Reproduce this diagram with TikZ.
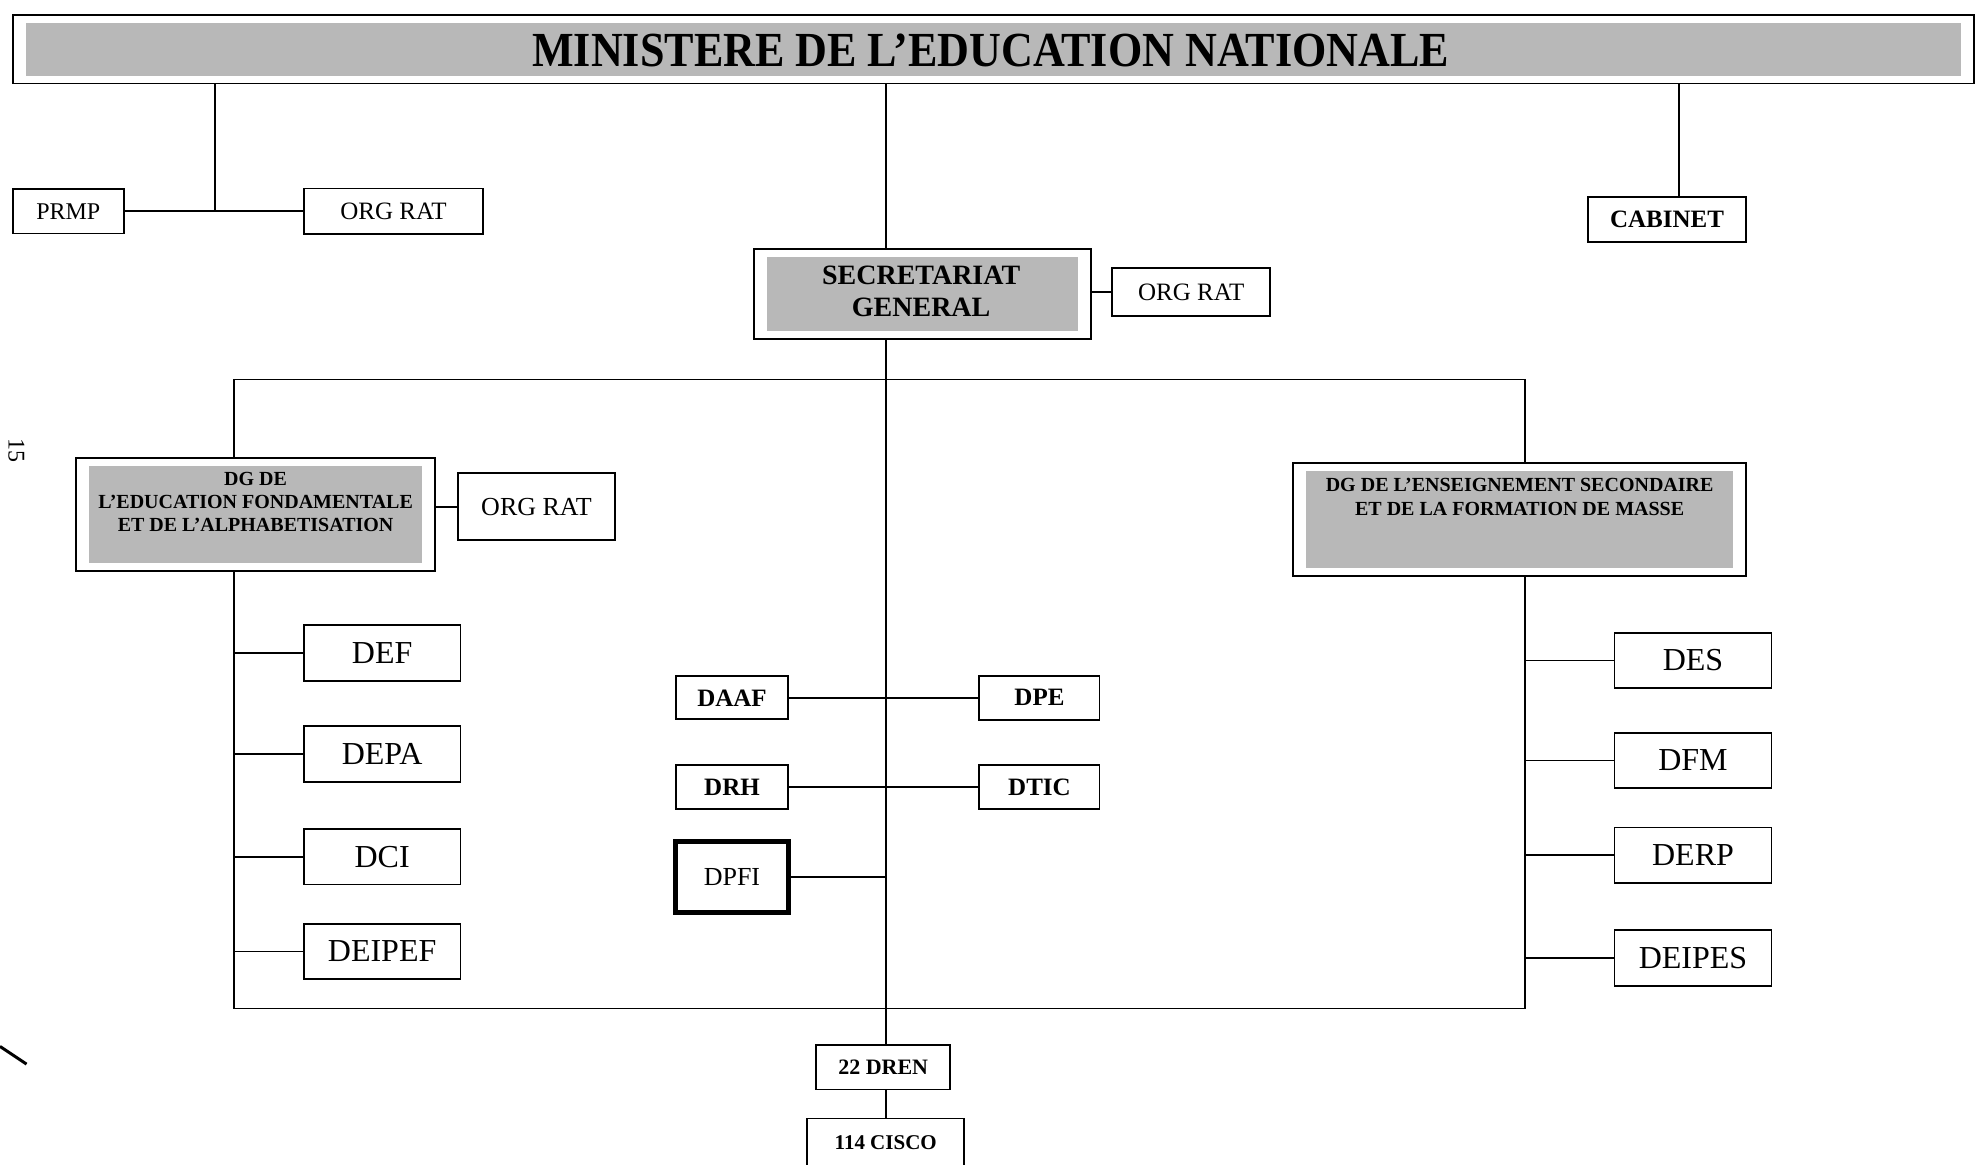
\documentclass[tikz,border=0pt]{standalone}
\usepackage{fontspec}
\setmainfont{Liberation Serif}
\usetikzlibrary{calc}
\definecolor{shadegray}{gray}{0.72}
\begin{document}
\begin{tikzpicture}[x=0.63265pt,y=-0.63265pt,
  line width=0.9pt,
  wh/.style 2 args={minimum width={#1*0.63265pt}, minimum height={#2*0.63265pt}},
  unit/.style={draw, line width=0.9pt, inner sep=0pt, fill=white},
  shaded/.style={unit, path picture={\fill[shadegray] ([xshift=6.5pt,yshift=4pt]path picture bounding box.south west) rectangle ([xshift=-6.5pt,yshift=-4pt]path picture bounding box.north east);}},
  lbl/.style={inner sep=0pt, align=center},
  child/.style={unit, wh={124}{44}, font=\fontsize{16}{18}\selectfont},
  mid/.style={unit, font=\bfseries\fontsize{12.5}{14}\selectfont},
  conn/.style={line width=0.9pt},
]
\useasboundingbox (0,0) rectangle (1568,920);

% top level
\node[shaded, wh={1550}{54}] (min) at (785,39) {};
\node[lbl, font=\bfseries\fontsize{24.5}{27}\selectfont] (mint) at (783,40) {\scalebox{0.9}[1]{MINISTERE DE L’EDUCATION NATIONALE}};

\node[unit, wh={88}{35}, font=\fontsize{12}{14}\selectfont] (prmp) at (54,167) {PRMP};
\node[unit, wh={142}{36}, font=\fontsize{12.5}{14}\selectfont] (org1) at (311,167) {ORG RAT};
\node[unit, wh={125}{35}, font=\bfseries\fontsize{12.5}{14}\selectfont] (cab) at (1317.5,173.5) {CABINET};

\node[shaded, wh={266}{71}] (sg) at (729,232.5) {};
\node[lbl, font=\bfseries\fontsize{14}{16}\selectfont] (sgt) at (728,230.5) {SECRETARIAT\\GENERAL};
\node[unit, wh={125}{38}, font=\fontsize{12.5}{14}\selectfont] (org2) at (941.5,231) {ORG RAT};

% DGs
\node[shaded, wh={284}{89}] (dgl) at (202,406.5) {};
\node[lbl, font=\bfseries\fontsize{10}{11.5}\selectfont] (dglt) at (202,397) {DG DE\\L’EDUCATION FONDAMENTALE\\ET DE L’ALPHABETISATION};
\node[unit, wh={124}{53}, font=\fontsize{13}{15}\selectfont] (org3) at (424,400.5) {ORG RAT};

\node[shaded, wh={358}{89}] (dgr) at (1201,410.5) {};
\node[lbl, font=\bfseries\fontsize{10}{12}\selectfont] (dgrt) at (1201,392.5) {DG DE L’ENSEIGNEMENT SECONDAIRE\\ET DE LA FORMATION DE MASSE};

% left children
\node[child] (def) at (302,516) {DEF};
\node[child] (depa) at (302,596) {DEPA};
\node[child] (dci) at (302,677) {DCI};
\node[child] (deipef) at (302,752) {DEIPEF};

% right children
\node[child] (des) at (1338,522) {DES};
\node[child] (dfm) at (1338,601) {DFM};
\node[child] (derp) at (1338,676) {DERP};
\node[child] (deipes) at (1338,757) {DEIPES};

% centre
\node[mid, wh={89}{34}] (daaf) at (578.5,551.5) {DAAF};
\node[mid, wh={95}{35}] (dpe) at (821.5,551.5) {DPE};
\node[mid, wh={89}{35}] (drh) at (578.5,622) {DRH};
\node[mid, wh={95}{35}] (dtic) at (821.5,622) {DTIC};
\node[unit, line width=2.5pt, wh={89}{56}, font=\fontsize{13}{15}\selectfont] (dpfi) at (578.5,693) {DPFI};

\node[unit, wh={106}{35}, font=\bfseries\fontsize{11}{13}\selectfont] (dren) at (698,843.5) {22 DREN};
\node[unit, wh={124}{60}] (cisco) at (700,914) {};
\node[lbl, font=\bfseries\fontsize{10.5}{12}\selectfont] (ciscot) at (700,903) {114 CISCO};

% page number and pen mark
\node[rotate=-90, inner sep=0pt, font=\fontsize{12}{14}\selectfont] (pg) at (13,356) {15};
\draw[line width=1.5pt] (0,827) -- (21,841);

% coordinates
\coordinate (j1) at (170,167);
\coordinate (cx) at (700,0);
\coordinate (cabx) at (1327,0);
\coordinate (tl) at (185,300);
\coordinate (tr) at (1205,300);
\coordinate (bl) at (185,797);
\coordinate (br) at (1205,797);

% connectors
\draw[conn] (prmp.east) -- (org1.west);
\draw[conn] (min.south -| j1) -- (j1);
\draw[conn] (min.south -| cx) -- (sg.north -| cx);
\draw[conn] (min.south -| cabx) -- (cab.north -| cabx);
\draw[conn] (sg.east |- org2.west) -- (org2.west);
\draw[conn] (sg.south -| cx) -- (dren.north -| cx);
\draw[conn] (dgl.north -| tl) -- (tl) -- (tr) -- (dgr.north -| tr);
\draw[conn] (dgl.south -| bl) -- (bl) -- (br) -- (dgr.south -| br);
\draw[conn] (dgl.east |- org3.west) -- (org3.west);
\foreach \n in {def,depa,dci,deipef}{\draw[conn] (\n.west -| bl) -- (\n.west);}
\foreach \n in {des,dfm,derp,deipes}{\draw[conn] (\n.west -| br) -- (\n.west);}
\draw[conn] (daaf.east) -- (dpe.west);
\draw[conn] (drh.east) -- (dtic.west);
\draw[conn] (dpfi.east) -- (dpfi.east -| cx);
\draw[conn] (dren.south -| cx) -- (cisco.north -| cx);
\end{tikzpicture}
\end{document}
